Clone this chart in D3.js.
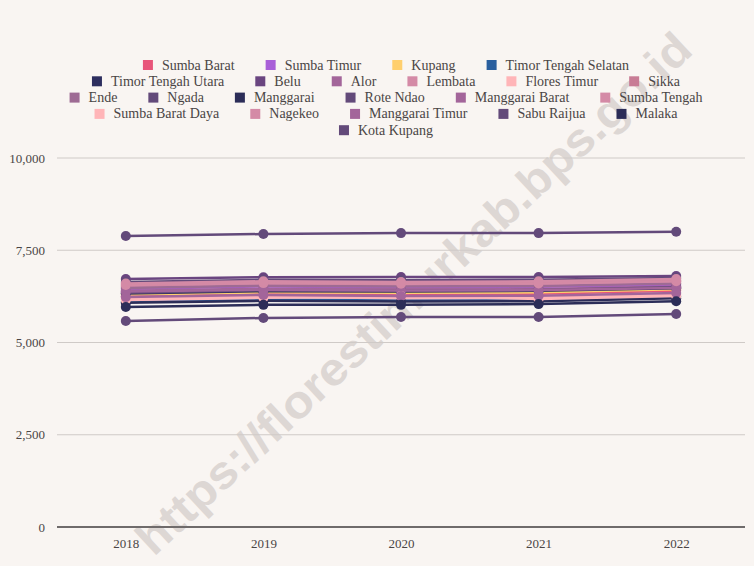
<!DOCTYPE html>
<html>
<head>
<meta charset="utf-8">
<script src="https://cdn.jsdelivr.net/npm/d3@7"></script>
<style>
  html, body { margin: 0; padding: 0; background: #f9f5f2; }
  svg { display: block; }
</style>
</head>
<body>
<svg id="chart" width="754" height="566"></svg>
<script>
const years = ["2018", "2019", "2020", "2021", "2022"];
const yTicks = [0, 2500, 5000, 7500, 10000];

const seriesNames = [
  "Sumba Barat", "Sumba Timur", "Kupang", "Timor Tengah Selatan",
  "Timor Tengah Utara", "Belu", "Alor", "Lembata", "Flores Timur", "Sikka",
  "Ende", "Ngada", "Manggarai", "Rote Ndao", "Manggarai Barat", "Sumba Tengah",
  "Sumba Barat Daya", "Nagekeo", "Manggarai Timur", "Sabu Raijua", "Malaka",
  "Kota Kupang"
];

const seriesColors = [
  "#e8557a", "#a95fd8", "#ffcf6e", "#2a5f9e",
  "#2d2e5f", "#6a4580", "#a3659a", "#d48aa6", "#ffb5b8", "#c87c95",
  "#9e6b94", "#634a7a", "#2c2d58", "#634a7a", "#a3659a", "#d48aa6",
  "#ffb5b8", "#d48aa6", "#a3659a", "#634a7a", "#2c2d58",
  "#634a7a"
];

const sumbaBarat        = [6250, 6310, 6300, 6320, 6400];
const sumbaTimur        = [6450, 6520, 6500, 6510, 6560];
const kupang            = [6300, 6360, 6350, 6360, 6440];
const timorTengahSel    = [6100, 6160, 6150, 6160, 6240];
const timorTengahUtara  = [6330, 6390, 6380, 6400, 6470];
const belu              = [6720, 6770, 6775, 6775, 6800];
const alor              = [6400, 6460, 6440, 6450, 6520];
const lembata           = [6520, 6580, 6560, 6570, 6640];
const floresTimur       = [6180, 6240, 6200, 6210, 6290];
const sikka             = [6560, 6620, 6600, 6610, 6680];
const ende              = [6480, 6540, 6520, 6530, 6600];
const ngada             = [6640, 6700, 6690, 6700, 6750];
const manggarai         = [6080, 6130, 6110, 6120, 6200];
const roteNdao          = [6350, 6410, 6400, 6420, 6500];
const manggaraiBarat    = [6380, 6430, 6410, 6420, 6480];
const sumbaTengah       = [6560, 6610, 6590, 6600, 6660];
const sumbaBaratDaya    = [6150, 6210, 6260, 6180, 6260];
const nagekeo           = [6600, 6660, 6640, 6660, 6720];
const manggaraiTimur    = [6230, 6290, 6260, 6270, 6340];
const sabuRaijua        = [5585, 5665, 5690, 5690, 5770];
const malaka            = [5960, 6020, 6020, 6040, 6120];
const kotaKupang        = [7885, 7940, 7965, 7965, 8000];

const seriesValues = [
  sumbaBarat, sumbaTimur, kupang, timorTengahSel,
  timorTengahUtara, belu, alor, lembata, floresTimur, sikka,
  ende, ngada, manggarai, roteNdao, manggaraiBarat, sumbaTengah,
  sumbaBaratDaya, nagekeo, manggaraiTimur, sabuRaijua, malaka,
  kotaKupang
];

const legendRowSizes = [4, 6, 6, 5, 1];

(function () {
const series = seriesNames.map((name, i) => ({
  name, color: seriesColors[i],
  values: years.map((yr, j) => ({ year: yr, value: seriesValues[i][j] }))
}));

const svg = d3.select("#chart");
const W = 754, H = 566;
const mLeft = 57, mRight = 745, mTop = 158, mBottom = 527;
const textColor = "#4a4545";
const fontFamily = "'Liberation Serif', 'DejaVu Serif', serif";

svg.append("rect").attr("width", W).attr("height", H).attr("fill", "#f9f5f2");

// watermark
svg.append("text")
  .attr("transform", "translate(416,296) rotate(-43)")
  .attr("text-anchor", "middle")
  .attr("dominant-baseline", "middle")
  .attr("font-family", "'Liberation Sans', Arial, sans-serif")
  .attr("font-weight", "bold")
  .attr("font-size", 46)
  .attr("textLength", 740)
  .attr("lengthAdjust", "spacingAndGlyphs")
  .attr("fill", "#ddd7d4")
  .text("https://florestimurkab.bps.go.id");

const x = d3.scalePoint().domain(years).range([mLeft, mRight]).padding(0.5);
const y = d3.scaleLinear().domain([0, 10000]).range([mBottom, mTop]);

// y axis labels
const yAxis = d3.axisLeft(y).tickValues(yTicks).tickSize(0).tickPadding(12)
  .tickFormat(d3.format(","));
const gy = svg.append("g").attr("transform", `translate(${mLeft},0)`).call(yAxis);
gy.select(".domain").remove();
gy.selectAll("text").attr("font-family", fontFamily).attr("font-size", 13)
  .attr("fill", textColor);

// grid
svg.append("g").selectAll("line").data(yTicks.filter(d => d !== 0)).join("line")
  .attr("x1", mLeft).attr("x2", mRight)
  .attr("y1", d => y(d)).attr("y2", d => y(d))
  .attr("stroke", "#cfcac7").attr("stroke-width", 1);

// x axis
const xAxis = d3.axisBottom(x).tickSize(0).tickPadding(12);
const gx = svg.append("g").attr("transform", `translate(0,${mBottom})`).call(xAxis);
gx.select(".domain").attr("stroke", "#6f6b6b").attr("stroke-width", 2)
  .attr("d", `M${mLeft},0H${mRight}`);
gx.selectAll("text").attr("font-family", fontFamily).attr("font-size", 13)
  .attr("fill", textColor);

// lines
const line = d3.line().x(d => x(d.year)).y(d => y(d.value));
const gs = svg.append("g").selectAll("g").data(series).join("g");
gs.append("path")
  .attr("d", d => line(d.values))
  .attr("fill", "none")
  .attr("stroke", d => d.color)
  .attr("stroke-width", 2.5);
gs.selectAll("circle").data(d => d.values.map(v => ({ ...v, color: d.color }))).join("circle")
  .attr("cx", d => x(d.year)).attr("cy", d => y(d.value)).attr("r", 5)
  .attr("fill", d => d.color);

// legend
const legend = svg.append("g");
const rowY0 = 65, rowStep = 16.3, centerX = 386, sq = 10, gapSq = 9, gapItem = 31;
let idx = 0;
legendRowSizes.forEach((n, r) => {
  const items = series.slice(idx, idx + n);
  idx += n;
  const row = legend.append("g");
  let cx = 0;
  items.forEach(s => {
    const g = row.append("g").attr("transform", `translate(${cx},0)`);
    g.append("rect").attr("x", 0).attr("y", -sq / 2).attr("width", sq).attr("height", sq)
      .attr("fill", s.color);
    const t = g.append("text").attr("x", sq + gapSq).attr("y", 0)
      .attr("dominant-baseline", "central")
      .attr("font-family", fontFamily).attr("font-size", 14)
      .attr("fill", textColor).text(s.name);
    cx += sq + gapSq + t.node().getComputedTextLength() + gapItem;
  });
  const total = cx - gapItem;
  row.attr("transform", `translate(${centerX - total / 2},${rowY0 + r * rowStep})`);
});
})();
</script>
</body>
</html>
